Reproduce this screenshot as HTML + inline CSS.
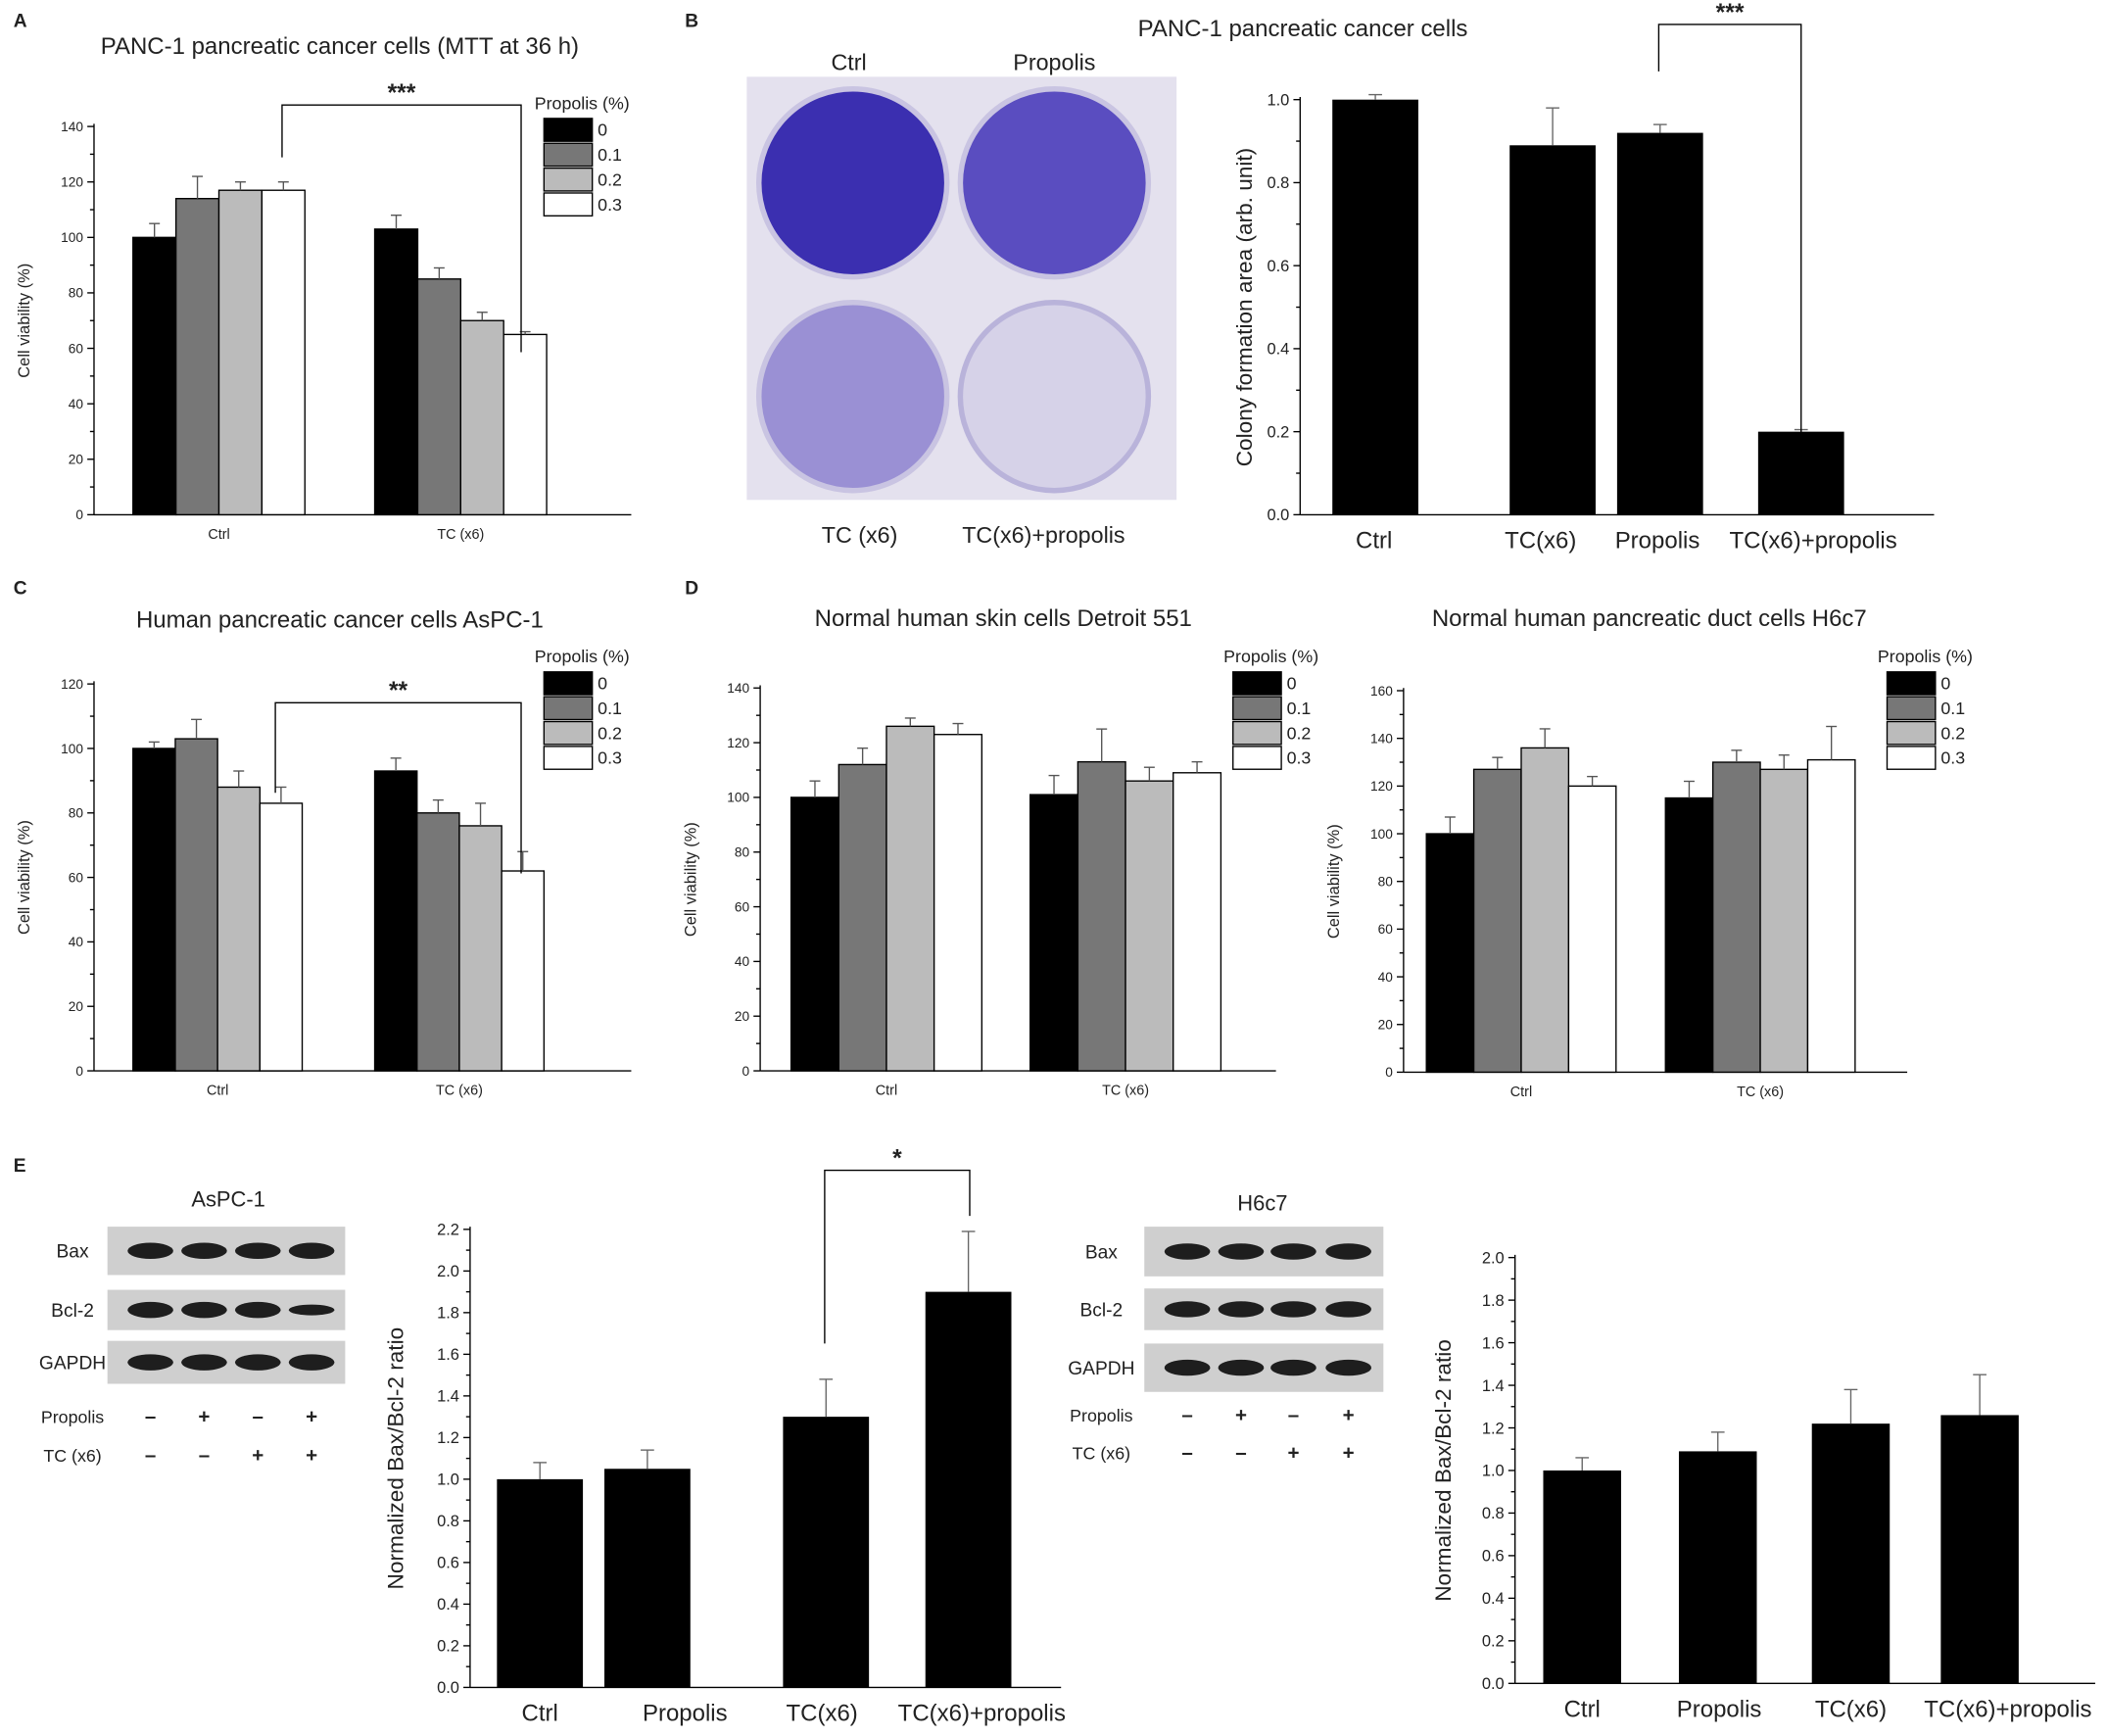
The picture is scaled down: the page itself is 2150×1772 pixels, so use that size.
<!DOCTYPE html>
<html><head><meta charset="utf-8"><style>
html,body{margin:0;padding:0;background:#fff}
svg{display:block}
text{font-family:"Liberation Sans",Arial,sans-serif;fill:#222}
</style></head><body>
<svg id="fig" width="2150" height="1772" viewBox="0 0 1568 1292" xmlns="http://www.w3.org/2000/svg">
<g font-weight="bold" font-size="14">
<text x="10" y="20">A</text>
<text x="510" y="20">B</text>
<text x="10" y="442">C</text>
<text x="510" y="442">D</text>
<text x="10" y="872">E</text>
</g>
<g>
<rect x="556" y="57" width="320" height="315" fill="#e4e1ee"/>
<circle cx="635" cy="136" r="70" fill="#3b2fb0" stroke="#c9c4e2" stroke-width="4"/>
<circle cx="785" cy="136" r="70" fill="#5a4dc0" stroke="#c9c4e2" stroke-width="4"/>
<circle cx="635" cy="295" r="70" fill="#9a90d4" stroke="#c9c4e2" stroke-width="4"/>
<circle cx="785" cy="295" r="70" fill="#d6d2e8" stroke="#b9b3da" stroke-width="4"/>
<text x="632" y="52" font-size="17" text-anchor="middle">Ctrl</text>
<text x="785" y="52" font-size="17" text-anchor="middle">Propolis</text>
<text x="640" y="404" font-size="17" text-anchor="middle">TC (x6)</text>
<text x="777" y="404" font-size="17" text-anchor="middle">TC(x6)+propolis</text>
</g>
<g id="blots"></g>
<g id="charts"></g>
</svg>
<script>
// ---- Panel A data
const aCats = ["Ctrl","TC (x6)"];
const aVals = [[100,114,117,117],[103,85,70,65]];
const aErr = [[5,8,3,3],[5,4,3,1]];
const aTicks = [0,20,40,60,80,100,120,140];
// ---- Panel B data
const bCats = ["Ctrl","TC(x6)","Propolis","TC(x6)+propolis"];
const bVals = [1.0,0.89,0.92,0.2];
const bErr = [0.012,0.09,0.02,0.005];
const bTicks = [0.0,0.2,0.4,0.6,0.8,1.0];
// ---- Panel C data
const cCats = ["Ctrl","TC (x6)"];
const cVals = [[100,103,88,83],[93,80,76,62]];
const cErr = [[2,6,5,5],[4,4,7,6]];
const cTicks = [0,20,40,60,80,100,120];
// ---- Panel D left data
const dlCats = ["Ctrl","TC (x6)"];
const dlVals = [[100,112,126,123],[101,113,106,109]];
const dlErr = [[6,6,3,4],[7,12,5,4]];
const dlTicks = [0,20,40,60,80,100,120,140];
// ---- Panel D right data
const drCats = ["Ctrl","TC (x6)"];
const drVals = [[100,127,136,120],[115,130,127,131]];
const drErr = [[7,5,8,4],[7,5,6,14]];
const drTicks = [0,20,40,60,80,100,120,140,160];
// ---- Panel E left data
const elCats = ["Ctrl","Propolis","TC(x6)","TC(x6)+propolis"];
const elVals = [1.0,1.05,1.3,1.9];
const elErr = [0.08,0.09,0.18,0.29];
const elTicks = [0,0.2,0.4,0.6,0.8,1.0,1.2,1.4,1.6,1.8,2.0,2.2];
// ---- Panel E right data
const erCats = ["Ctrl","Propolis","TC(x6)","TC(x6)+propolis"];
const erVals = [1.0,1.09,1.22,1.26];
const erErr = [0.06,0.09,0.16,0.19];
const erTicks = [0,0.2,0.4,0.6,0.8,1.0,1.2,1.4,1.6,1.8,2.0];
const legendLevels = ["0","0.1","0.2","0.3"];

const NS="http://www.w3.org/2000/svg";
const root=document.getElementById('charts');
function mk(tag,attrs,parent,txt){const e=document.createElementNS(NS,tag);for(const k in attrs)e.setAttribute(k,attrs[k]);if(txt!==undefined)e.textContent=txt;(parent||root).appendChild(e);return e;}
const fills=["#000","#777","#bbb","#fff"];

function axes(g,x0,y0,y1,xEnd,ticks,max,fs,dec,minor){
  const ys=v=>y0-(v/max)*(y0-y1);
  const ax=mk('line',{x1:x0,y1:y0,x2:x0,y2:ys(ticks[ticks.length-1])-2,stroke:'#000','stroke-width':1},g);
  
  const bx=mk('line',{x1:x0,y1:y0,x2:xEnd,y2:y0,stroke:'#000','stroke-width':1},g);
  
  ticks.forEach((t,i)=>{
    const y=ys(t);
    mk('line',{x1:x0-5,y1:y,x2:x0,y2:y,stroke:'#000'},g);
    const tl=mk('text',{x:x0-8,y:y+fs*0.35,'font-size':fs,'text-anchor':'end'},g,dec?t.toFixed(1):t);
    
    if(minor&&i<ticks.length-1){const ym=ys((t+ticks[i+1])/2);mk('line',{x1:x0-3,y1:ym,x2:x0,y2:ym,stroke:'#000'},g);}
  });
  return ys;
}
function ylabel(g,x,y,fs,txt){const t=mk('text',{x:x,y:y,'font-size':fs,'text-anchor':'middle',transform:`rotate(-90 ${x} ${y})`},g,txt);}
function title(g,x,y,fs,txt){const t=mk('text',{x:x,y:y,'font-size':fs,'text-anchor':'middle'},g,txt);}

function grouped(name,cats,vals,errs,ticks,o){
  const g=mk('g',{});
  const max=ticks[ticks.length-1];
  const ys=axes(g,o.x0,o.y0,o.yTop,o.xEnd,ticks,max,10,false,true);
  cats.forEach((c,gi)=>{
    vals[gi].forEach((v,i)=>{
      const x=o.gx[gi]+i*o.bw, y=ys(v);
      const b=mk('rect',{x:x,y:y,width:o.bw,height:o.y0-y,fill:fills[i],stroke:'#000','stroke-width':1},g);
      
      const cx=x+o.bw/2, ye=ys(v+errs[gi][i]);
      mk('line',{x1:cx,y1:y,x2:cx,y2:ye,stroke:'#555'},g);
      mk('line',{x1:cx-4,y1:ye,x2:cx+4,y2:ye,stroke:'#555'},g);
    });
    const l=mk('text',{x:o.gx[gi]+2*o.bw,y:o.y0+18,'font-size':10.5,'text-anchor':'middle'},g,c);
    
  });
  ylabel(g,o.x0-48,(o.y0+o.yTop)/2,12,'Cell viability (%)');
  title(g,o.tx,o.ty,17.5,o.title);
  const lg=mk('g',{},g);
  mk('text',{x:o.lx-7,y:o.ly-7,'font-size':13},lg,'Propolis (%)');
  legendLevels.forEach((lv,i)=>{
    const r=mk('rect',{x:o.lx,y:o.ly+i*18.5,width:36,height:17,fill:fills[i],stroke:'#000'},lg);
    
    mk('text',{x:o.lx+40,y:o.ly+i*18.5+13,'font-size':13},lg,lv);
  });
  if(o.bracket){const br=o.bracket;
    const p=mk('polyline',{points:`${br[0]},${br[1]} ${br[0]},${br[2]} ${br[3]},${br[2]} ${br[3]},${br[4]}`,fill:'none',stroke:'#000'},g);
    
    const s=mk('text',{x:(br[0]+br[3])/2,y:br[2]-3,'font-size':18,'text-anchor':'middle','font-weight':'bold'},g,br[5]);
    }
}

function single(name,cats,vals,errs,ticks,o){
  const g=mk('g',{});
  const max=ticks[ticks.length-1];
  const ys=axes(g,o.x0,o.y0,o.yTop,o.xEnd,ticks,max,12,true,true);
  cats.forEach((c,i)=>{
    const x=o.bx[i],y=ys(vals[i]);
    const b=mk('rect',{x:x,y:y,width:o.bw,height:o.y0-y,fill:'#000'},g);
    
    const cx=x+o.bw/2,ye=ys(vals[i]+errs[i]);
    mk('line',{x1:cx,y1:y,x2:cx,y2:ye,stroke:'#666'},g);
    mk('line',{x1:cx-5,y1:ye,x2:cx+5,y2:ye,stroke:'#666'},g);
    const l=mk('text',{x:o.lx[i],y:o.y0+25,'font-size':17.5,'text-anchor':'middle'},g,c);
    
  });
  ylabel(g,o.ylx,(o.y0+o.yTop)/2,16.5,o.ylab);
  if(o.title)title(g,o.tx,o.ty,17.5,o.title);
  if(o.bracket){const br=o.bracket;
    const p=mk('polyline',{points:`${br[0]},${br[1]} ${br[0]},${br[2]} ${br[3]},${br[2]} ${br[3]},${br[4]}`,fill:'none',stroke:'#000'},g);
    
    const s=mk('text',{x:(br[0]+br[3])/2,y:br[2]-3,'font-size':18,'text-anchor':'middle','font-weight':'bold'},g,br[5]);
    }
}

grouped('chart-a-panc1-mtt',aCats,aVals,aErr,aTicks,{x0:70,y0:383,yTop:94,xEnd:470,gx:[99,279],bw:32,tx:253,ty:40,title:'PANC-1 pancreatic cancer cells (MTT at 36 h)',lx:405,ly:88,bracket:[210,117,78,388,262,'***']});
single('chart-b-colony',bCats,bVals,bErr,bTicks,{x0:968,y0:383,yTop:74,xEnd:1440,bx:[992,1124,1204,1309],bw:64,lx:[1023,1147,1234,1350],ylx:932,ylab:'Colony formation area (arb. unit)',tx:970,ty:27,title:'PANC-1 pancreatic cancer cells',bracket:[1235,53,18,1341,378,'***']});
grouped('chart-c-aspc1',cCats,cVals,cErr,cTicks,{x0:70,y0:797,yTop:509,xEnd:470,gx:[99,279],bw:31.5,tx:253,ty:467,title:'Human pancreatic cancer cells AsPC-1',lx:405,ly:500,bracket:[205,590,523,388,650,'**']});
grouped('chart-d-detroit551',dlCats,dlVals,dlErr,dlTicks,{x0:566,y0:797,yTop:512,xEnd:950,gx:[589,767],bw:35.5,tx:747,ty:466,title:'Normal human skin cells Detroit 551',lx:918,ly:500});
grouped('chart-d-h6c7',drCats,drVals,drErr,drTicks,{x0:1045,y0:798,yTop:514,xEnd:1420,gx:[1062,1240],bw:35.3,tx:1228,ty:466,title:'Normal human pancreatic duct cells H6c7',lx:1405,ly:500});
single('chart-e-aspc1-ratio',elCats,elVals,elErr,elTicks,{x0:350,y0:1256,yTop:915,xEnd:790,bx:[370,450,583,689],bw:64,lx:[402,510,612,731],ylx:300,ylab:'Normalized Bax/Bcl-2 ratio',bracket:[614,1000,871,722,905,'*']});
single('chart-e-h6c7-ratio',erCats,erVals,erErr,erTicks,{x0:1128,y0:1253,yTop:936,xEnd:1560,bx:[1149,1250,1349,1445],bw:58,lx:[1178,1280,1378,1495],ylx:1080,ylab:'Normalized Bax/Bcl-2 ratio'});

// Western blots
const blotRoot=document.getElementById('blots');
function blot(name,x,w,rows,labX,title,tx,ty,prop,tc,signX,py,ty2,bandW){
  const g=mk('g',{},blotRoot);
  const t=mk('text',{x:tx,y:ty,'font-size':16,'text-anchor':'middle'},g,title);
  rows.forEach(r=>{
    const bg=mk('rect',{x:x,y:r[1],width:w,height:r[2],fill:'#cfcfcf'},g);
    
    signX.forEach((sx,i)=>{mk('ellipse',{cx:sx,cy:r[1]+r[2]/2,rx:bandW,ry:r[0]==='Bcl-2'&&i===3&&name==='blot-aspc1'?4:6,fill:'#1e1e1e'},g);});
    mk('text',{x:labX,y:r[1]+r[2]/2+5,'font-size':14,'text-anchor':'middle'},g,r[0]);
  });
  mk('text',{x:labX,y:py+5,'font-size':13,'text-anchor':'middle'},g,'Propolis');
  mk('text',{x:labX,y:ty2+5,'font-size':13,'text-anchor':'middle'},g,'TC (x6)');
  signX.forEach((sx,i)=>{
    mk('text',{x:sx,y:py+5,'font-size':15,'text-anchor':'middle','font-weight':'bold'},g,prop[i]);
    mk('text',{x:sx,y:ty2+5,'font-size':15,'text-anchor':'middle','font-weight':'bold'},g,tc[i]);
  });
}
blot('blot-aspc1',80,177,[['Bax',913,36],['Bcl-2',960,30],['GAPDH',998,32]],54,'AsPC-1',170,898,['–','+','–','+'],['–','–','+','+'],[112,152,192,232],1054,1083,17);
blot('blot-h6c7',852,178,[['Bax',913,37],['Bcl-2',959,31],['GAPDH',1000,36]],820,'H6c7',940,901,['–','+','–','+'],['–','–','+','+'],[884,924,963,1004],1053,1081,17);
</script>
</body></html>
